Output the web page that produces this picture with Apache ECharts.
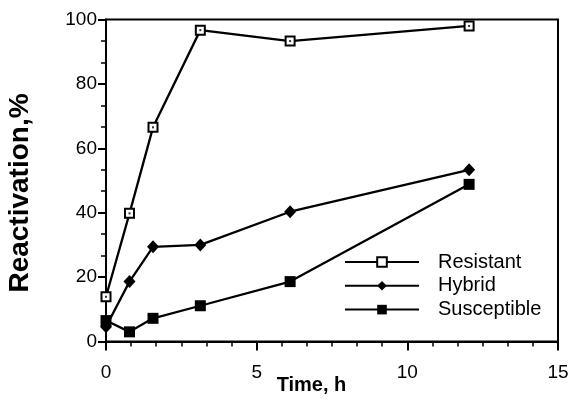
<!DOCTYPE html>
<html>
<head>
<meta charset="utf-8">
<script src="https://cdn.jsdelivr.net/npm/echarts@6/dist/echarts.min.js"></script>
<style>
  html, body { margin: 0; padding: 0; background: #fff; }
  #chart { width: 573px; height: 399px; }
</style>
</head>
<body>
<div id="chart"></div>
<script>
// time points (h)
var times = [0, 0.78, 1.56, 3.13, 6.11, 12.05];
var resistant = [13.9, 39.8, 66.5, 96.7, 93.3, 98];
var hybrid = [4.6, 18.6, 29.4, 30.0, 40.3, 53.3];
var susceptible = [6.5, 3.0, 7.2, 11.1, 18.6, 48.8];
var seriesNames = ["Resistant", "Hybrid", "Susceptible"];
var xTicks = [0, 5, 10, 15];
var yTicks = [0, 20, 40, 60, 80, 100];

function pairs(vals) {
  return times.map(function (t, i) { return [t, vals[i]]; });
}

var font = "Liberation Sans, Arial, Helvetica, sans-serif";
var chart = echarts.init(document.getElementById("chart"));

chart.setOption({
  animation: false,
  backgroundColor: "#fff",
  grid: {
    left: 106, right: 15, top: 19.5, bottom: 57.5,
    outerBoundsMode: "none",
    show: true, borderColor: "#000", borderWidth: 2
  },
  legend: {
    orient: "vertical",
    left: 339, top: 247,
    itemWidth: 74, itemHeight: 12, itemGap: 3.8,
    data: seriesNames,
    textStyle: { fontFamily: font, fontSize: 20, lineHeight: 20, color: "#000", padding: [0, 0, 0, 14] }
  },
  xAxis: {
    type: "value",
    min: xTicks[0], max: xTicks[xTicks.length - 1], interval: 5,
    name: "Time, h",
    nameLocation: "middle",
    nameGap: 34,
    nameMoveOverlap: false,
    nameTextStyle: { fontFamily: font, fontWeight: "bold", fontSize: 20, color: "#000", padding: [0, 41, 0, 0] },
    axisLine: { lineStyle: { color: "#000", width: 2 } },
    axisTick: { length: 9, lineStyle: { color: "#000", width: 2 } },
    minorTick: { show: true, splitNumber: 6, length: 5, lineStyle: { color: "#000", width: 1.5 } },
    splitLine: { show: false },
    axisLabel: { fontFamily: font, fontSize: 19, color: "#000", margin: 22 }
  },
  yAxis: {
    type: "value",
    min: yTicks[0], max: yTicks[yTicks.length - 1], interval: 20,
    name: "Reactivation,%",
    nameLocation: "middle",
    nameGap: 72,
    nameMoveOverlap: false,
    nameTextStyle: { fontFamily: font, fontWeight: "bold", fontSize: 28, color: "#000", padding: [0, 25, 0, 0] },
    axisLine: { lineStyle: { color: "#000", width: 2 } },
    axisTick: { length: 8, lineStyle: { color: "#000", width: 2 } },
    minorTick: { show: true, splitNumber: 3, length: 5, lineStyle: { color: "#000", width: 1.5 } },
    splitLine: { show: false },
    axisLabel: { fontFamily: font, fontSize: 19, color: "#000", margin: 9 }
  },
  series: [
    {
      name: "Resistant", type: "line", data: pairs(resistant),
      symbol: "emptyRect", symbolSize: 9,
      lineStyle: { color: "#000", width: 2.3 },
      itemStyle: { color: "#000", borderColor: "#000", borderWidth: 2 },
      z: 3
    },
    {
      name: "Hybrid", type: "line", data: pairs(hybrid),
      symbol: "diamond", symbolSize: [12, 13],
      lineStyle: { color: "#000", width: 2.3 },
      itemStyle: { color: "#000" }
    },
    {
      name: "Susceptible", type: "line", data: pairs(susceptible),
      symbol: "rect", symbolSize: 11,
      lineStyle: { color: "#000", width: 2.3 },
      itemStyle: { color: "#000" }
    },
    {
      // small centre dot inside the open squares
      name: "dot", type: "scatter", data: pairs(resistant),
      symbol: "rect", symbolSize: 2, z: 4,
      itemStyle: { color: "#000" }
    }
  ]
});
</script>
</body>
</html>
